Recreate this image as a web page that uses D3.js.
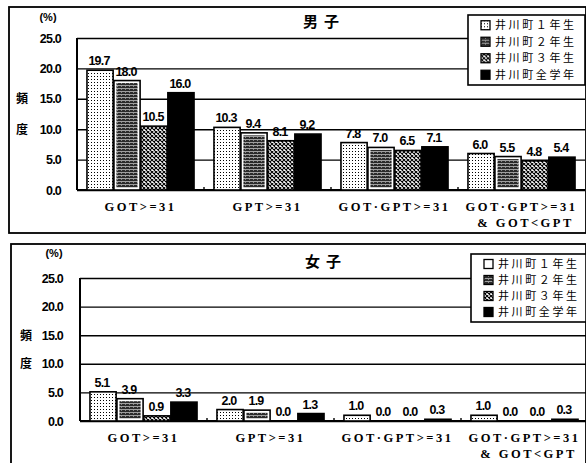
<!DOCTYPE html>
<html>
<head>
<meta charset="utf-8">
<script src="https://cdn.jsdelivr.net/npm/d3@7"></script>
<style>
  body { margin: 0; background: #fff; }
  svg { display: block; }
  .tick-label { font-family: "Liberation Sans", Arial, sans-serif; font-weight: bold; font-size: 12.5px; letter-spacing: -0.8px; }
  .val-label { font-family: "Liberation Sans", Arial, sans-serif; font-weight: bold; font-size: 12.5px; letter-spacing: -0.8px; }
  .cat-label { font-family: "Liberation Serif", "DejaVu Serif", serif; font-weight: bold; font-size: 12.5px; letter-spacing: 2.5px; }
  .cjk { font-family: "Noto Sans CJK JP", sans-serif; }
</style>
</head>
<body>
<div id="chart"></div>
<script>
// 井川町 GOT / GPT 頻度 (男子・女子)

const categories = ["GOT>=31", "GPT>=31", "GOT·GPT>=31", "GOT·GPT>=31"];
const categorySub = ["", "", "", "& GOT<GPT"];
const seriesNames = ["井川町１年生", "井川町２年生", "井川町３年生", "井川町全学年"];
const yTicks = [0, 5, 10, 15, 20, 25];

// one array per series, values per category
const maleValues = [
  [19.7, 10.3, 7.8, 6.0],
  [18.0, 9.4, 7.0, 5.5],
  [10.5, 8.1, 6.5, 4.8],
  [16.0, 9.2, 7.1, 5.4]
];
const femaleValues = [
  [5.1, 2.0, 1.0, 1.0],
  [3.9, 1.9, 0.0, 0.0],
  [0.9, 0.0, 0.0, 0.0],
  [3.3, 1.3, 0.3, 0.3]
];

const W = 586, H = 463;
const svg = d3.select("#chart").append("svg")
  .attr("width", W)
  .attr("height", H);

// fill patterns
const defs = svg.append("defs");
const pDots = defs.append("pattern").attr("id", "p-dots")
  .attr("patternUnits", "userSpaceOnUse").attr("width", 3).attr("height", 3);
pDots.append("rect").attr("width", 3).attr("height", 3).attr("fill", "#fff");
pDots.append("rect").attr("x", 1).attr("y", 1).attr("width", 1).attr("height", 1).attr("fill", "#000");

const pDark = defs.append("pattern").attr("id", "p-dark")
  .attr("patternUnits", "userSpaceOnUse").attr("width", 4).attr("height", 3);
pDark.append("rect").attr("width", 4).attr("height", 3).attr("fill", "#2a2a2a");
pDark.append("rect").attr("x", 0).attr("y", 1).attr("width", 4).attr("height", 0.8).attr("fill", "#bbb");
pDark.append("rect").attr("x", 1).attr("y", 2).attr("width", 1).attr("height", 1).attr("fill", "#888");

const pCross = defs.append("pattern").attr("id", "p-cross")
  .attr("patternUnits", "userSpaceOnUse").attr("width", 4).attr("height", 4);
pCross.append("rect").attr("width", 4).attr("height", 4).attr("fill", "#fff");
pCross.append("path").attr("d", "M0,0L4,4M4,0L0,4").attr("stroke", "#000").attr("stroke-width", 1.1);

const seriesFill = ["url(#p-dots)", "url(#p-dark)", "url(#p-cross)", "#000"];

function drawPanel(cfg) {
  const g = svg.append("g");

  // outer frame
  g.append("rect")
    .attr("x", cfg.frame.x).attr("y", cfg.frame.y)
    .attr("width", cfg.frame.w).attr("height", cfg.frame.h)
    .attr("fill", "none").attr("stroke", "#000").attr("stroke-width", 1.8);

  const plotW = 508;
  const x = d3.scaleBand()
    .domain(d3.range(categories.length))
    .range([cfg.left, cfg.left + plotW])
    .paddingInner(0.157)
    .paddingOuter(0.0785);
  const xs = d3.scaleBand()
    .domain(d3.range(seriesNames.length))
    .range([0, x.bandwidth()])
    .paddingInner(0.03);
  const y = d3.scaleLinear().domain([0, 25]).range([cfg.bottom, cfg.top]);

  // gridlines + tick labels
  const yAxis = g.append("g")
    .attr("transform", `translate(${cfg.left},0)`)
    .call(d3.axisLeft(y).tickValues(yTicks).tickFormat(d3.format(".1f"))
      .tickSize(-plotW).tickPadding(cfg.left - cfg.tickX));
  yAxis.select(".domain").remove();
  yAxis.selectAll(".tick line").attr("stroke", "#000").attr("stroke-width", 1.4);
  yAxis.selectAll(".tick text").attr("class", "tick-label").attr("fill", "#000")
    .attr("font-family", null).attr("font-size", null);

  // plot box left + base
  g.append("line").attr("x1", cfg.left).attr("x2", cfg.left)
    .attr("y1", cfg.top).attr("y2", cfg.bottom)
    .attr("stroke", "#000").attr("stroke-width", 2);
  g.append("line").attr("x1", cfg.left).attr("x2", cfg.left + plotW)
    .attr("y1", cfg.bottom).attr("y2", cfg.bottom)
    .attr("stroke", "#000").attr("stroke-width", 2);
  // small category ticks on base
  g.selectAll(".cat-tick")
    .data(d3.range(1, categories.length))
    .join("line")
    .attr("x1", i => x(i) - x.step() * 0.157 / 2)
    .attr("x2", i => x(i) - x.step() * 0.157 / 2)
    .attr("y1", cfg.bottom).attr("y2", cfg.bottom - 3)
    .attr("stroke", "#000").attr("stroke-width", 1.4);

  // bars
  const bars = [];
  cfg.values.forEach((vals, s) => {
    vals.forEach((v, c) => bars.push({ s, c, v }));
  });

  const barG = g.append("g");
  barG.selectAll("rect.bar")
    .data(bars.filter(d => d.v > 0))
    .join("rect")
    .attr("class", "bar")
    .attr("x", d => x(d.c) + xs(d.s))
    .attr("y", d => y(d.v))
    .attr("width", xs.bandwidth())
    .attr("height", d => cfg.bottom - y(d.v))
    .attr("fill", d => d.s === 1 ? "#fff" : seriesFill[d.s])
    .attr("stroke", "#000")
    .attr("stroke-width", 1.6);
  // series 2 drawn with a white inner margin
  barG.selectAll("rect.inner")
    .data(bars.filter(d => d.s === 1 && cfg.bottom - y(d.v) > 6))
    .join("rect")
    .attr("class", "inner")
    .attr("x", d => x(d.c) + xs(d.s) + 2.5)
    .attr("y", d => y(d.v) + 2.5)
    .attr("width", xs.bandwidth() - 5)
    .attr("height", d => cfg.bottom - y(d.v) - 5)
    .attr("fill", seriesFill[1]);

  // value labels
  g.selectAll(".val-label")
    .data(bars)
    .join("text")
    .attr("class", "val-label")
    .attr("x", d => x(d.c) + xs(d.s) + xs.bandwidth() / 2 - 1)
    .attr("y", d => y(d.v) - 5)
    .attr("text-anchor", "middle")
    .text(d => d3.format(".1f")(d.v));

  // category labels
  g.selectAll(".cat-label")
    .data(categories)
    .join("text")
    .attr("class", "cat-label")
    .attr("x", (d, i) => x(i) + x.bandwidth() / 2)
    .attr("y", cfg.bottom + 21)
    .attr("text-anchor", "middle")
    .text(d => d);
  g.selectAll(".cat-sub")
    .data(categorySub)
    .join("text")
    .attr("class", "cat-label")
    .attr("x", (d, i) => x(i) + x.bandwidth() / 2 + 4)
    .attr("y", cfg.bottom + 37)
    .attr("text-anchor", "middle")
    .text(d => d);

  // unit + axis title
  g.append("text").attr("class", "tick-label")
    .attr("x", cfg.pctX).attr("y", cfg.pctY)
    .attr("text-anchor", "middle").style("font-size", "11px").style("letter-spacing", "0px")
    .text("(%)");
  g.append("text").attr("class", "cjk")
    .attr("x", cfg.kanjiX).attr("y", y(15) + 4.5)
    .attr("text-anchor", "middle").style("font-size", "12px").style("font-weight", "bold")
    .text("頻");
  g.append("text").attr("class", "cjk")
    .attr("x", cfg.kanjiX).attr("y", y(10) + 4.5)
    .attr("text-anchor", "middle").style("font-size", "12px").style("font-weight", "bold")
    .text("度");

  // title
  g.append("text").attr("class", "cjk")
    .attr("x", cfg.titleX).attr("y", cfg.titleY)
    .attr("text-anchor", "middle")
    .style("font-size", "15px").style("font-weight", "bold")
    .style("letter-spacing", "6px")
    .text(cfg.title);

  // legend
  const lg = g.append("g");
  lg.append("rect")
    .attr("x", cfg.legend.x).attr("y", cfg.legend.y)
    .attr("width", cfg.legend.w).attr("height", cfg.legend.h)
    .attr("fill", "#fff").attr("stroke", "#000").attr("stroke-width", 1.6);
  const rowH = (cfg.legend.h - 4) / seriesNames.length;
  const rows = lg.selectAll(".lg-row")
    .data(seriesNames)
    .join("g")
    .attr("transform", (d, i) => `translate(${cfg.legend.x},${cfg.legend.y + 2 + rowH * (i + 0.5)})`);
  rows.append("rect")
    .attr("x", 13).attr("y", -4.5)
    .attr("width", 9).attr("height", 9)
    .attr("fill", (d, i) => i === 0 && cfg.plainFirst ? "#fff" : seriesFill[i])
    .attr("stroke", "#000").attr("stroke-width", 1.3);
  rows.append("text").attr("class", "cjk")
    .attr("x", 27).attr("y", 4)
    .style("font-size", "11px")
    .style("letter-spacing", "2.6px")
    .text(d => d);
}

drawPanel({
  frame: { x: 9, y: 7, w: 577, h: 226 },
  left: 77, top: 38, bottom: 190, tickX: 61,
  values: maleValues,
  title: "男子", titleX: 324, titleY: 27,
  pctX: 48, pctY: 21, kanjiX: 22,
  legend: { x: 468, y: 15, w: 117, h: 70 },
  plainFirst: false
});

drawPanel({
  frame: { x: 11, y: 244, w: 575, h: 240 },
  left: 80, top: 278, bottom: 421, tickX: 63,
  values: femaleValues,
  title: "女子", titleX: 326, titleY: 267,
  pctX: 54, pctY: 257, kanjiX: 26,
  legend: { x: 471, y: 254, w: 115, h: 68 },
  plainFirst: true
});
</script>
</body>
</html>
